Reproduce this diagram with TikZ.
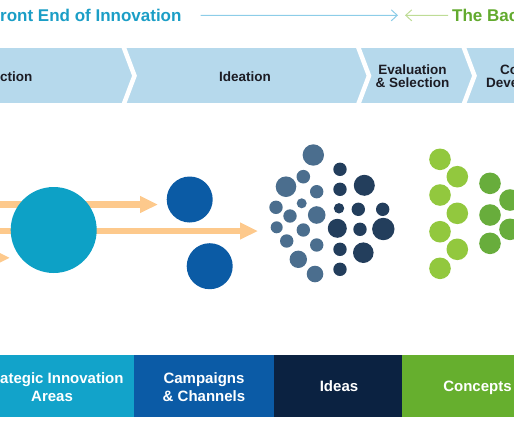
\documentclass[tikz,border=0pt]{standalone}
\usepackage{fontspec}
\setmainfont{Liberation Sans}
\usetikzlibrary{positioning,arrows.meta}

\definecolor{frontcol}{HTML}{1B9EC6}
\definecolor{frontline}{HTML}{8DCDE8}
\definecolor{backcol}{HTML}{62AA2E}
\definecolor{backline}{HTML}{BEDC96}
\definecolor{phasecol}{HTML}{B6D9EC}
\definecolor{phasetext}{HTML}{1C1C24}
\definecolor{flowcol}{HTML}{FDC98C}
\definecolor{areacol}{HTML}{0DA1C6}
\definecolor{campcol}{HTML}{0B5BA5}
\definecolor{ideacol}{HTML}{4B6E8E}
\definecolor{ideadark}{HTML}{233E5C}
\definecolor{conclight}{HTML}{92C83E}
\definecolor{concdark}{HTML}{68AD3C}
\definecolor{barareas}{HTML}{12A3CA}
\definecolor{barcamp}{HTML}{0B5BA6}
\definecolor{barideas}{HTML}{0B2241}
\definecolor{barconc}{HTML}{66AF2E}

\tikzset{
	headline/.style={font=\bfseries\fontsize{17}{20}\selectfont, inner sep=0pt, anchor=base west},
	phase/.style={font=\bfseries\fontsize{13.5}{13.5}\selectfont, text=phasetext, inner sep=0pt, anchor=base},
	stage/.style={font=\bfseries\fontsize{15}{18}\selectfont, text=white, inner sep=0pt, anchor=base},
	gap/.style={draw=white, line width=4.5pt},
	flow/.style={draw=flowcol, line width=6.5pt, -{Triangle[length=18pt,width=16pt]}},
	blob/.style={circle, inner sep=0pt, minimum size=#1},
}

\begin{document}
\begin{tikzpicture}[x=1pt, y=-1pt]
		\useasboundingbox (0,0) rectangle (514,429);
		\clip (0,0) rectangle (514,429);
		% header
		\node [headline, text=frontcol] (front) at (0,21.5) {ront End of Innovation};
		\node [headline, text=backcol] (back) at (452,21.5) {The Bac};
		\coordinate (meet) at (401.5,15.3);
		\draw [line width=1pt, frontline, shorten <=19pt, shorten >=3.5pt, -{Straight Barb[length=6pt,width=11pt]}] (front.east) -- (meet);
		\draw [line width=1pt, backline, shorten <=4pt, shorten >=3.5pt, -{Straight Barb[length=6pt,width=11pt]}] (back.west) -- (meet);
		% phases
		\begin{scope}
			\clip (0,48.3) rectangle (514,103.3);
			\fill [phasecol] (0,48.3) rectangle (514,103.3);
			\foreach \gx in {124,358.5,464}
				\draw [gap] (\gx-1.5,44) -- (\gx+10.5,75.8) -- (\gx-1.5,107.6);
		\end{scope}
		\node [phase, anchor=base west] (selph) at (0,81.7) {ction};
		\node [phase] (ideaph) at (245,81.7) {Ideation};
		\node [phase, align=center] (evalph) at (412.5,87.5) {Evaluation\\\& Selection};
		\node [phase, anchor=base west, align=left] (devph) at (486,87.5) {\hspace*{14pt}Co\\Deve};
		% flows
		\coordinate (s1) at (-5,204.5);
		\coordinate (t1) at (158,204.5);
		\coordinate (s2) at (-5,231);
		\coordinate (t2) at (258,231);
		\coordinate (s3) at (-5,257.8);
		\coordinate (t3) at (10,257.8);
		\draw [flow] (s1) -- (t1);
		\draw [flow] (s2) -- (t2);
		\draw [flow] (s3) -- (t3);
		\node [blob=86pt, fill=areacol] (areas) at (53.7,230) {};
		\node [blob=46pt, fill=campcol] (camp1) at (189.7,199.5) {};
		\node [blob=46pt, fill=campcol] (camp2) at (209.7,266.2) {};
		% ideas
		\foreach \x/\y/\r in {313.3/155/10.7, 303.3/176.7/6.8, 286/186.7/10.3, 316.7/191.7/6.7,
				276/207.3/6.7, 301.7/203.3/5, 290/216/6.7, 316.7/215/8.8, 276.7/227.3/6,
				303.3/230/6.7, 286.7/241/6.7, 316.7/245/6.7, 298.3/259.3/8.7, 315/274/8.3}
			\fill [ideacol] (\x,\y) circle (\r pt);
		\foreach \x/\y/\r in {340/169.3/6.7, 364.3/185.3/10.5, 340/189.3/6.7, 339/208.3/5.2,
				358.3/209.3/6.7, 382.7/209.3/6.7, 337.3/228.3/9.5, 360/229.3/6.7, 383.3/229/11.2,
				340/249.3/6.7, 363.3/252.7/10.3, 340/269.3/6.7}
			\fill [ideadark] (\x,\y) circle (\r pt);
		% concepts
		\foreach \x/\y in {440/159.3, 457.3/176.7, 440/195, 457.3/213.3, 440/231.7, 457.3/249.3, 440/268.3}
			\fill [conclight] (\x,\y) circle (10.8pt);
		\foreach \x/\y in {490/183.3, 490/215, 490/243.3, 510/200, 510/229.3}
			\fill [concdark] (\x,\y) circle (10.8pt);
		% stages
		\fill [barareas] (0,355) rectangle (134,417.3);
		\fill [barcamp] (134,355) rectangle (274,417.3);
		\fill [barideas] (274,355) rectangle (402,417.3);
		\fill [barconc] (402,355) rectangle (514,417.3);
		\node [stage, anchor=base west, align=left] (areastxt) at (0,401.7) {ategic Innovation\\\hspace*{31pt}Areas};
		\node [stage, align=center] (camptxt) at (204,401.7) {Campaigns\\\& Channels};
		\node [stage] (ideatxt) at (339,391.7) {Ideas};
		\node [stage] (conctxt) at (477.5,391.7) {Concepts};
\end{tikzpicture}
\end{document}
